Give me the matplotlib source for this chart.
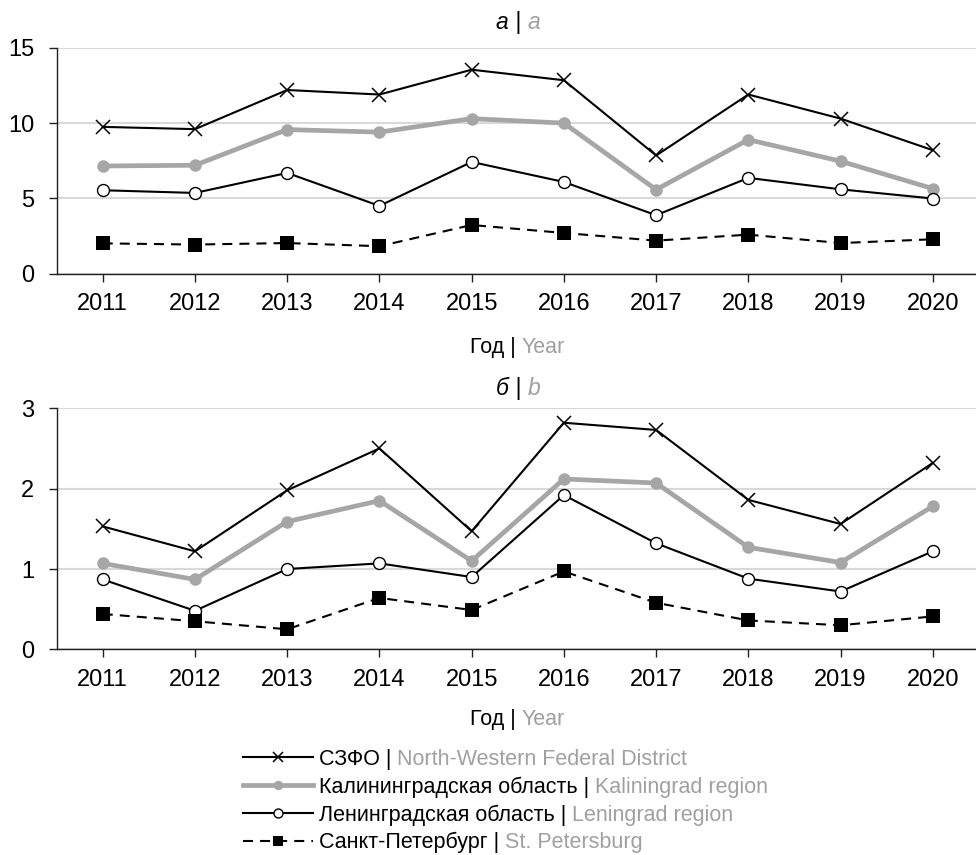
import matplotlib
matplotlib.use("Agg")
import matplotlib.pyplot as plt
from matplotlib.offsetbox import TextArea, HPacker, AnnotationBbox

# ---- data -------------------------------------------------------------
years = [2011, 2012, 2013, 2014, 2015, 2016, 2017, 2018, 2019, 2020]

# panel а / a
nw_a = [9.75, 9.6, 12.2, 11.9, 13.55, 12.85, 7.85, 11.9, 10.3, 8.2]
kal_a = [7.15, 7.2, 9.57, 9.4, 10.3, 10.0, 5.58, 8.9, 7.47, 5.65]
len_a = [5.54, 5.36, 6.69, 4.5, 7.42, 6.09, 3.88, 6.36, 5.6, 4.99]
spb_a = [2.01, 1.93, 2.03, 1.82, 3.23, 2.7, 2.19, 2.59, 2.03, 2.28]

# panel б / b
nw_b = [1.53, 1.22, 1.98, 2.5, 1.47, 2.82, 2.73, 1.86, 1.56, 2.32]
kal_b = [1.07, 0.87, 1.59, 1.85, 1.10, 2.12, 2.07, 1.27, 1.08, 1.78]
len_b = [0.87, 0.48, 1.0, 1.07, 0.9, 1.92, 1.32, 0.88, 0.72, 1.22]
spb_b = [0.44, 0.35, 0.25, 0.64, 0.49, 0.97, 0.58, 0.36, 0.30, 0.41]

series_ru = ["СЗФО |", "Калининградская область |",
             "Ленинградская область |", "Санкт-Петербург |"]
series_en = ["North-Western Federal District", "Kaliningrad region",
             "Leningrad region", "St. Petersburg"]

panel_ru = ["а", "б"]
panel_en = ["a", "b"]
xlabel_ru = "Год |"
xlabel_en = "Year"

yticks_a = [0, 5, 10, 15]
yticks_b = [0, 1, 2, 3]

# ---- styling ----------------------------------------------------------
FONT = ["Liberation Sans", "DejaVu Sans"]
GREY_TXT = "#a0a0a0"
GREY_LINE = "#a6a6a6"
GRID = "#d9d9d9"
AXIS_COL = "#202020"

styles = [
    dict(color="black", lw=1.5, marker="x", ms=10.5, mew=1.1, mfc="black", mec="black", ls="-"),
    dict(color=GREY_LINE, lw=3.4, marker="o", ms=9, mew=0, mfc=GREY_LINE, mec=GREY_LINE, ls="-"),
    dict(color="black", lw=1.5, marker="o", ms=8.6, mew=1.0, mfc="white", mec="black", ls="-"),
    dict(color="black", lw=1.5, marker="s", ms=9.5, mew=0, mfc="black", mec="black", ls=(0, (4.8, 3.4))),
]

fig = plt.figure(figsize=(9.76, 8.55), dpi=100)
ax_a = fig.add_axes([0.058, 0.680, 0.945, 0.264])
ax_b = fig.add_axes([0.058, 0.2405, 0.945, 0.282])

x = list(range(len(years)))


def two_tone(parts, xy, fontsize, style="normal"):
    boxes = [TextArea(t, textprops=dict(color=c, fontsize=fontsize,
                                        family=FONT, style=style))
             for t, c in parts]
    pack = HPacker(children=boxes, align="baseline", pad=0, sep=0)
    ab = AnnotationBbox(pack, xy, xycoords="figure fraction",
                        box_alignment=(0.5, 0.5), frameon=False)
    fig.add_artist(ab)


def draw_panel(ax, data, yticks):
    handles = []
    for vals, st in zip(data, styles):
        h, = ax.plot(x, vals, color=st["color"], lw=st["lw"], ls=st["ls"],
                     marker=st["marker"], ms=st["ms"], mew=st["mew"],
                     mfc=st["mfc"], mec=st["mec"], clip_on=False, zorder=3)
        handles.append(h)
    ax.set_xlim(-0.5, len(years) - 0.5)
    ax.set_ylim(yticks[0], yticks[-1])
    ax.set_xticks(x)
    ax.set_xticklabels([str(y) for y in years], family=FONT, fontsize=17)
    ax.set_yticks(yticks)
    ax.set_yticklabels([str(v) for v in yticks], family=FONT, fontsize=17)
    ax.yaxis.grid(True, color=GRID, lw=1.5, zorder=0)
    ax.set_axisbelow(True)
    for s in ("top", "right"):
        ax.spines[s].set_visible(False)
    for s in ("left", "bottom"):
        ax.spines[s].set_color(AXIS_COL)
        ax.spines[s].set_linewidth(1.0)
    ax.tick_params(axis="both", direction="out", length=6, width=1.0,
                   color=AXIS_COL, labelcolor="black")
    ax.tick_params(axis="x", pad=8)
    ax.tick_params(axis="y", pad=10)
    return handles


handles = draw_panel(ax_a, [nw_a, kal_a, len_a, spb_a], yticks_a)
draw_panel(ax_b, [nw_b, kal_b, len_b, spb_b], yticks_b)

cx = 0.058 + 0.945 / 2
two_tone([(panel_ru[0] + " | ", "black"), (panel_en[0], GREY_TXT)],
         (cx, 0.974), 16.5, "italic")
two_tone([(panel_ru[1] + " | ", "black"), (panel_en[1], GREY_TXT)],
         (cx, 0.546), 16.5, "italic")
two_tone([(xlabel_ru + " ", "black"), (xlabel_en, GREY_TXT)],
         (cx, 0.593), 15.5)
two_tone([(xlabel_ru + " ", "black"), (xlabel_en, GREY_TXT)],
         (cx, 0.159), 15.5)

LEG_FS = 15.5
leg = fig.legend(handles, series_ru, loc="upper left",
                 bbox_to_anchor=(243 / 976, 1 - 749 / 855),
                 frameon=False, borderpad=0, borderaxespad=0,
                 handlelength=3.25, handletextpad=0.28, labelspacing=0.30,
                 markerscale=0.75, prop=dict(family=FONT, size=LEG_FS))

# grey English half of each legend entry, placed right after the Russian half
fig.canvas.draw()
renderer = fig.canvas.get_renderer()
W, H = fig.bbox.width, fig.bbox.height
for t, en in zip(leg.get_texts(), series_en):
    bb = t.get_window_extent(renderer)
    fig.text(bb.x1 / W, bb.y0 / H, " " + en, va="bottom", ha="left",
             fontsize=LEG_FS, family=FONT, color=GREY_TXT)

fig.savefig("out.png", dpi=100)
